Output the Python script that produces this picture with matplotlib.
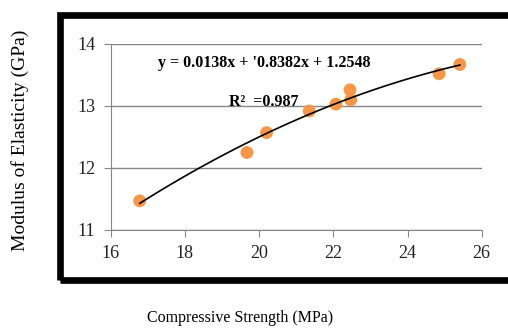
import numpy as np
import matplotlib
matplotlib.use("Agg")
import matplotlib.pyplot as plt
from matplotlib.patches import Rectangle

# datos
strength = [16.78, 19.67, 20.20, 21.35, 22.07, 22.47, 22.45, 24.85, 25.41]
modulus = [11.47, 12.25, 12.57, 12.92, 13.03, 13.10, 13.26, 13.52, 13.67]
x_ticks = [16, 18, 20, 22, 24, 26]
y_ticks = [11, 12, 13, 14]
eq_text = "y = 0.0138x + '0.8382x + 1.2548"
r2_text = "R\u00b2  =0.987"

plt.rcParams['font.family'] = ['Liberation Serif', 'DejaVu Serif']
grey = '#868686'

fig = plt.figure(figsize=(5.08, 3.36), dpi=100)
ax = fig.add_axes([110.7 / 508, 1 - 230 / 336, 371 / 508, 186 / 336])

# puntos y linea de tendencia polinomica de orden 2 (encima de los puntos)
ax.scatter(strength, modulus, s=85, color='#F79646', edgecolors='none', zorder=2)
coef = np.polyfit(strength, modulus, 2)
xs = np.linspace(min(strength), max(strength), 100)
ax.plot(xs, np.polyval(coef, xs), color='black', lw=1.2, zorder=3)

ax.set_xlim(16, 26)
ax.set_ylim(11, 14)
ax.set_xticks(x_ticks)
ax.set_yticks(y_ticks)
ax.grid(axis='y', color=grey, lw=1)
ax.set_axisbelow(True)
for s in ['top', 'right']:
    ax.spines[s].set_visible(False)
for s in ['left', 'bottom']:
    ax.spines[s].set_color(grey)
ax.tick_params(colors=grey, length=5, labelcolor='#222222', labelsize=13)
ax.tick_params(axis='x', pad=6)
ax.tick_params(axis='y', pad=6)

ax.text(0.415, 0.898, eq_text, transform=ax.transAxes, ha='center', va='center',
        fontsize=11.5, fontweight='bold')
ax.text(0.413, 0.688, r2_text, transform=ax.transAxes, ha='center', va='center',
        fontsize=11.5, fontweight='bold')

# marco negro grueso del grafico
fig.patches.append(Rectangle((60 / 508, 1 - 280 / 336), 460 / 508, 265 / 336,
                             transform=fig.transFigure, fill=False,
                             edgecolor='black', lw=4.8, clip_on=False))

fig.text(20 / 508, 1 - 140 / 336, 'Modulus of Elasticity (GPa)', rotation=90,
         ha='center', va='center', fontsize=14)
fig.text(240 / 508, 1 - 318 / 336, 'Compressive Strength (MPa)',
         ha='center', va='center', fontsize=11.5)

fig.savefig('out.png', dpi=100)
